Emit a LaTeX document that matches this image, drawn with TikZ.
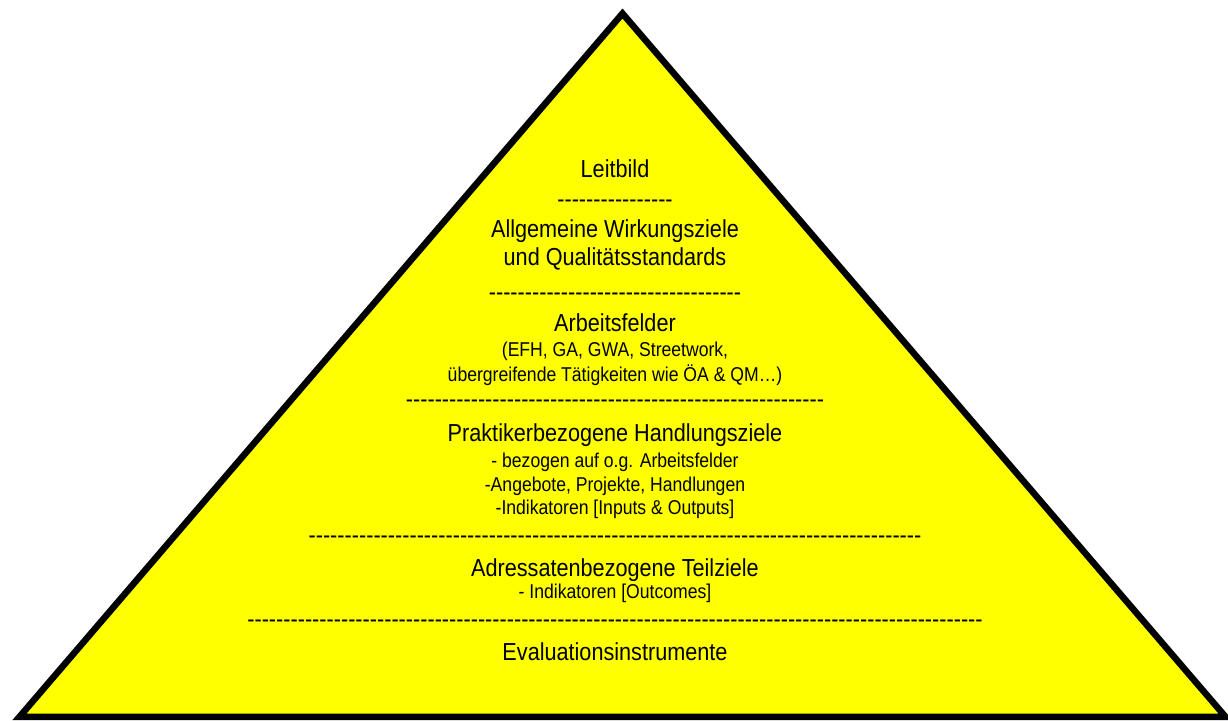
\documentclass[tikz,border=0pt]{standalone}
\usepackage{fontspec}
\setmainfont{Liberation Sans}
\newfontfamily\mainf[FakeStretch=0.88]{Liberation Sans}
\newfontfamily\smallf[FakeStretch=0.88]{Liberation Sans}
\newcount\hycnt
\newcommand\hyphens[1]{\hycnt=0 \loop\mbox{-}\advance\hycnt by 1 \ifnum\hycnt<#1 \repeat}
\definecolor{pyryellow}{RGB}{255,255,0}
\tikzset{
  big/.style={anchor=base, inner sep=0pt, font=\mainf\fontsize{24.6}{28}\selectfont},
  small/.style={anchor=base, inner sep=0pt, font=\smallf\fontsize{20}{24}\selectfont},
  sep/.style={anchor=base, inner sep=0pt, font=\mainf\fontsize{24.6}{28}\selectfont},
}
\begin{document}
\begin{tikzpicture}[x=1pt,y=-1pt]
\useasboundingbox (0,0) rectangle (1228,720);
\filldraw[fill=pyryellow, draw=black, line width=6.5pt, miter limit=10]
  (622.5,13.5) coordinate (apex) -- (1225.5,716.8) coordinate (br) -- (19.5,716.8) coordinate (bl) -- cycle;
\node[big] (leitbild) at (615,177.5) {Leitbild};
\node[sep] (d1) at (615,207.5) {\hyphens{16}};
\node[big] (allg1) at (615,237.5) {Allgemeine Wirkungsziele};
\node[big] (allg2) at (615,265.5) {und Qualitätsstandards};
\node[sep] (d2) at (615,300) {\hyphens{35}};
\node[big] (arb) at (615,331) {Arbeitsfelder};
\node[small] (arb1) at (615,356) {(EFH, GA, GWA, Streetwork,};
\node[small] (arb2) at (615,381) {übergreifende Tätigkeiten wie ÖA \& QM…)};
\node[sep] (d3) at (615,407.5) {\hyphens{58}};
\node[big] (prak) at (615,441) {Praktikerbezogene Handlungsziele};
\node[small] (prak1) at (615,467) {- bezogen auf o.g. Arbeitsfelder};
\node[small] (prak2) at (615,491) {-Angebote, Projekte, Handlungen};
\node[small] (prak3) at (615,514) {-Indikatoren [Inputs \& Outputs]};
\node[sep] (d4) at (615,543.5) {\hyphens{85}};
\node[big] (adr) at (615,576) {Adressatenbezogene Teilziele};
\node[small] (adr1) at (615,598) {- Indikatoren [Outcomes]};
\node[sep] (d5) at (615,627) {\hyphens{102}};
\node[big] (eval) at (615,660.5) {Evaluationsinstrumente};
\end{tikzpicture}
\end{document}
